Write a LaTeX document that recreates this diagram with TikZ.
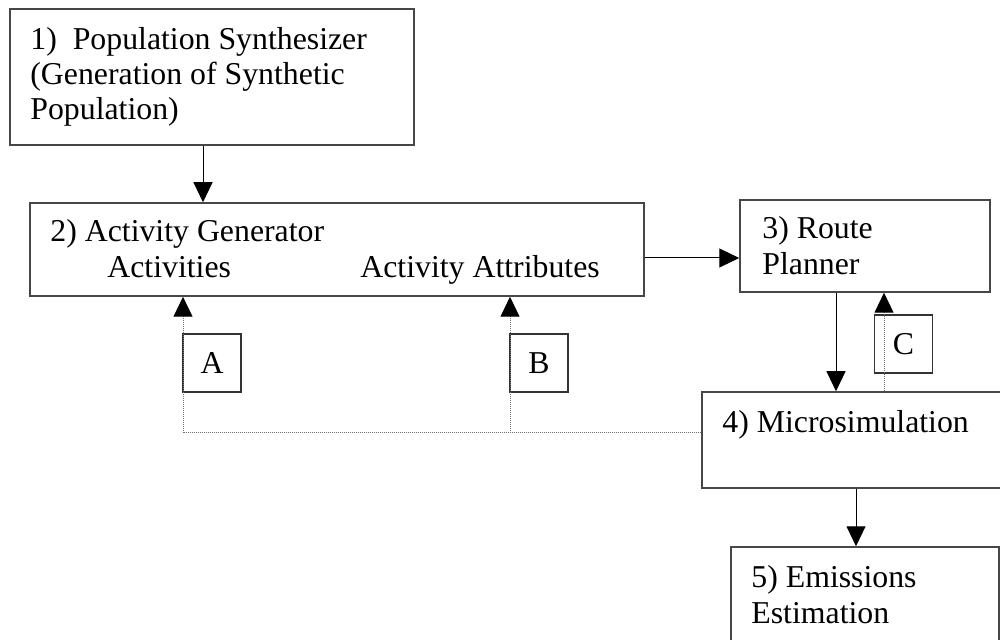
\documentclass[tikz,border=0pt]{standalone}
\usepackage{fontspec}
\setmainfont{Liberation Serif}
\usetikzlibrary{arrows.meta}
\tikzset{
  box/.style={draw=black!72, line width=0.75pt, rectangle, inner sep=0pt},
  lbl/.style={anchor=base west, inner sep=0pt, font=\fontsize{15.9}{18}\selectfont},
  key/.style={draw=black!80, line width=0.6pt, rectangle, inner sep=0pt,
              minimum width=29pt, minimum height=29pt, font=\fontsize{15.9}{18}\selectfont},
  tip/.style={-{Triangle[length=10pt,width=9.5pt,black]}},
  flow/.style={tip, draw=black, line width=0.5pt},
  feedback/.style={tip, draw=black!55, line width=0.5pt, dash pattern=on 0.5pt off 0.5pt},
  link/.style={draw=black!55, line width=0.5pt, dash pattern=on 0.5pt off 0.5pt}
}
\begin{document}
\begin{tikzpicture}[x=0.5pt,y=-0.5pt]
\clip (0,0) rectangle (1000,640);
\fill[white] (0,0) rectangle (1000,640);

% process boxes
\node[box, minimum width=202pt, minimum height=68pt] (b1) at (212,77) {};
\node[box, minimum width=307pt, minimum height=46.5pt] (b2) at (337,249.5) {};
\node[box, minimum width=125pt, minimum height=46pt] (b3) at (865,246) {};
\node[box, minimum width=154pt, minimum height=48pt] (b4) at (856,440) {};
\node[box, minimum width=134pt, minimum height=60pt] (b5) at (865,607) {};

% box texts
\node[lbl] (t1a) at (30,50) {1)\ \ Population Synthesizer};
\node[lbl] (t1b) at (30,85) {(Generation of Synthetic};
\node[lbl] (t1c) at (30,120) {Population)};
\node[lbl] (t2a) at (50,242) {2) Activity Generator};
\node[lbl] (t2b) at (107,278) {Activities};
\node[lbl] (t2c) at (360,278) {Activity Attributes};
\node[lbl] (t3a) at (762,239) {3) Route};
\node[lbl] (t3b) at (762,275) {Planner};
\node[lbl] (t4a) at (722,433) {4) Microsimulation};
\node[lbl] (t5a) at (751,587) {5) Emissions};
\node[lbl] (t5b) at (751,623) {Estimation};

% feedback keys
\node[key] (kA) at (212,363) {A};
\node[key] (kB) at (539,363) {B};
\node[key] (kC) at (903.5,344) {C};

% main flow
\draw[flow] (203,0 |- b1.south) -- (203,0 |- b2.north);
\draw[flow] (0,258 -| b2.east) -- (0,258 -| b3.west);
\draw[flow] (836,0 |- b3.south) -- (836,0 |- b4.north);
\draw[flow] (856,0 |- b4.south) -- (856,0 |- b5.north);

% feedback loops
\coordinate (fA) at (183,433);
\coordinate (fB) at (510,433);
\draw[link] (0,433 -| b4.west) -- (fA);
\draw[feedback] (fA) -- (fA |- b2.south);
\draw[feedback] (fB) -- (fB |- b2.south);
\draw[feedback] (884,0 |- b4.north) -- (884,0 |- b3.south);
\end{tikzpicture}
\end{document}
